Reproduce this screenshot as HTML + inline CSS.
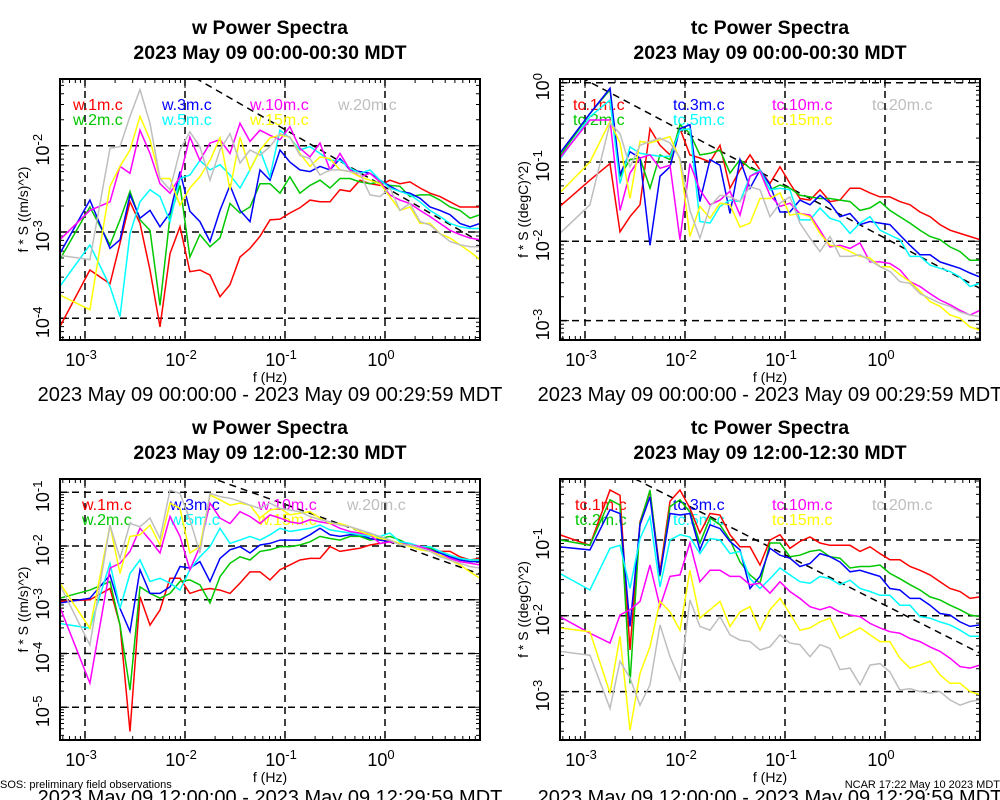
<!DOCTYPE html>
<html><head><meta charset="utf-8"><style>
html,body{margin:0;padding:0;background:#fff;}
svg{display:block;font-family:"Liberation Sans",Arial,sans-serif;}
</style></head><body>
<svg id="chart" width="1000" height="800" viewBox="0 0 1000 800" xmlns="http://www.w3.org/2000/svg">
<rect width="1000" height="800" fill="#fff"/>
<text x="270" y="34" text-anchor="middle" font-size="19.5" font-weight="bold">w Power Spectra</text>
<text x="270" y="59" text-anchor="middle" font-size="19.5" font-weight="bold">2023 May 09 00:00-00:30 MDT</text>
<text x="770" y="34" text-anchor="middle" font-size="19.5" font-weight="bold">tc Power Spectra</text>
<text x="770" y="59" text-anchor="middle" font-size="19.5" font-weight="bold">2023 May 09 00:00-00:30 MDT</text>
<text x="270" y="434" text-anchor="middle" font-size="19.5" font-weight="bold">w Power Spectra</text>
<text x="270" y="459" text-anchor="middle" font-size="19.5" font-weight="bold">2023 May 09 12:00-12:30 MDT</text>
<text x="770" y="434" text-anchor="middle" font-size="19.5" font-weight="bold">tc Power Spectra</text>
<text x="770" y="459" text-anchor="middle" font-size="19.5" font-weight="bold">2023 May 09 12:00-12:30 MDT</text>
<text x="270" y="401" text-anchor="middle" font-size="20">2023 May 09 00:00:00 - 2023 May 09 00:29:59 MDT</text>
<text x="770" y="401" text-anchor="middle" font-size="20">2023 May 09 00:00:00 - 2023 May 09 00:29:59 MDT</text>
<text x="270" y="804" text-anchor="middle" font-size="20">2023 May 09 12:00:00 - 2023 May 09 12:29:59 MDT</text>
<text x="770" y="804" text-anchor="middle" font-size="20">2023 May 09 12:00:00 - 2023 May 09 12:29:59 MDT</text>
<text x="0" y="788" font-size="11">SOS: preliminary field observations</text>
<text x="1000" y="788" text-anchor="end" font-size="11">NCAR 17:22 May 10 2023 MDT</text>
</svg>
<script>
const freq=[0.00056,0.00112,0.00178,0.00224,0.00282,0.00355,0.00447,0.00562,0.00708,0.00891,0.0112,0.0141,0.0178,0.0224,0.0282,0.0355,0.0447,0.0562,0.0708,0.0891,0.112,0.141,0.178,0.224,0.282,0.355,0.447,0.562,0.708,0.891,1.12,1.41,1.78,2.24,2.82,3.55,4.47,5.62,7.08,8.91];
const xTickExps=[-3,-2,-1,0];
const xTickLabels=["-3","-2","-1","0"];
// values are log10(f*S)
const wA_1m=[-4.10,-3.44,-3.60,-3.13,-2.65,-2.90,-3.44,-4.10,-3.25,-2.94,-3.46,-3.44,-3.50,-3.75,-3.61,-3.29,-3.19,-3.05,-2.86,-2.85,-2.78,-2.72,-2.63,-2.65,-2.65,-2.51,-2.53,-2.40,-2.44,-2.46,-2.40,-2.44,-2.42,-2.49,-2.55,-2.59,-2.65,-2.71,-2.71,-2.71];
const wA_2m=[-3.32,-2.71,-3.15,-2.86,-2.53,-2.86,-2.98,-3.85,-2.82,-2.46,-3.29,-3.03,-3.17,-3.07,-2.67,-2.78,-2.71,-2.44,-2.44,-2.55,-2.36,-2.55,-2.46,-2.40,-2.49,-2.38,-2.38,-2.42,-2.44,-2.42,-2.46,-2.47,-2.59,-2.57,-2.57,-2.63,-2.71,-2.75,-2.84,-2.80];
const wA_3m=[-3.25,-2.63,-3.19,-3.09,-2.57,-2.84,-2.75,-2.94,-2.78,-2.30,-2.76,-2.88,-3.11,-2.75,-2.46,-2.75,-2.88,-2.28,-2.40,-2.05,-2.19,-2.28,-2.30,-2.24,-2.28,-2.15,-2.28,-2.30,-2.32,-2.40,-2.47,-2.53,-2.55,-2.61,-2.71,-2.75,-2.80,-2.90,-2.94,-2.90];
const wA_5m=[-3.63,-3.15,-3.63,-3.98,-3.02,-2.65,-2.51,-2.59,-2.88,-2.38,-2.34,-2.17,-2.28,-2.22,-2.34,-2.49,-2.28,-2.05,-2.36,-1.82,-1.91,-2.05,-2.01,-2.09,-2.17,-2.17,-2.26,-2.32,-2.28,-2.40,-2.49,-2.53,-2.57,-2.65,-2.75,-2.82,-2.90,-2.94,-2.96,-2.96];
const wA_10m=[-3.09,-2.75,-2.65,-2.24,-2.32,-1.82,-2.09,-2.44,-2.55,-2.36,-1.90,-2.17,-1.97,-1.93,-2.09,-1.74,-1.95,-1.82,-1.88,-1.93,-1.78,-2.03,-2.13,-1.97,-2.28,-2.09,-2.28,-2.36,-2.32,-2.42,-2.57,-2.63,-2.67,-2.75,-2.82,-2.90,-2.98,-3.03,-3.07,-3.09];
const wA_15m=[-3.73,-3.90,-2.47,-2.24,-2.05,-1.66,-1.93,-2.38,-2.38,-2.69,-2.49,-2.36,-2.17,-1.91,-2.51,-1.90,-2.28,-2.05,-1.91,-1.88,-1.90,-2.09,-2.24,-2.13,-2.15,-2.28,-2.30,-2.36,-2.40,-2.44,-2.59,-2.75,-2.71,-2.90,-2.90,-3.02,-3.07,-3.15,-3.23,-3.32];
const wA_20m=[-3.27,-3.32,-2.03,-2.01,-1.66,-1.35,-1.74,-2.38,-2.51,-2.05,-1.84,-2.01,-2.40,-2.05,-1.86,-2.20,-2.05,-2.11,-2.01,-1.86,-1.90,-2.11,-2.15,-2.34,-2.28,-2.28,-2.30,-2.32,-2.57,-2.59,-2.49,-2.75,-2.67,-2.88,-2.92,-3.02,-3.11,-3.15,-3.17,-3.17];

const tA_1m=[-1.56,-1.23,-1.02,-1.88,-1.69,-1.54,-0.58,-0.79,-0.91,-0.58,-0.91,-0.95,-1.00,-0.79,-1.33,-1.10,-0.91,-1.10,-1.27,-1.06,-1.27,-1.46,-1.48,-1.35,-1.50,-1.48,-1.33,-1.33,-1.39,-1.44,-1.44,-1.50,-1.54,-1.63,-1.69,-1.79,-1.86,-1.90,-1.94,-1.98];
const tA_2m=[-0.93,-0.39,-0.09,-1.18,-0.97,-0.95,-1.33,-0.91,-0.97,-0.53,-0.64,-0.91,-0.89,-0.85,-1.14,-0.97,-1.08,-1.12,-1.35,-1.29,-1.33,-1.42,-1.44,-1.46,-1.46,-1.48,-1.50,-1.61,-1.58,-1.50,-1.61,-1.69,-1.77,-1.86,-1.94,-1.98,-2.07,-2.13,-2.24,-2.24];
const tA_3m=[-0.89,-0.39,-0.07,-1.16,-0.87,-0.95,-2.05,-1.18,-1.06,-0.58,-0.53,-1.50,-0.97,-1.04,-1.65,-0.97,-1.33,-1.10,-1.29,-1.63,-1.63,-1.48,-1.54,-1.42,-1.52,-1.69,-1.65,-1.79,-1.75,-1.77,-1.79,-1.92,-2.05,-2.17,-2.17,-2.26,-2.30,-2.34,-2.40,-2.45];
const tA_5m=[-0.97,-0.43,-0.22,-1.27,-0.81,-0.89,-0.91,-0.93,-0.93,-0.60,-0.58,-1.75,-1.77,-1.56,-1.48,-1.50,-1.18,-1.10,-1.35,-1.33,-1.35,-1.73,-1.73,-1.58,-1.71,-1.75,-1.90,-1.77,-1.69,-1.86,-1.92,-1.98,-2.19,-2.19,-2.30,-2.34,-2.38,-2.45,-2.57,-2.53];
const tA_10m=[-0.95,-0.47,-0.47,-1.61,-1.14,-0.95,-0.91,-1.08,-1.04,-1.98,-1.02,-1.35,-1.54,-1.48,-1.37,-1.67,-1.18,-1.12,-1.42,-1.56,-1.52,-1.65,-1.67,-1.86,-2.07,-2.05,-2.09,-2.02,-2.26,-2.26,-2.28,-2.36,-2.51,-2.57,-2.66,-2.74,-2.80,-2.87,-2.93,-2.87];
const tA_15m=[-1.39,-1.00,-0.49,-0.76,-1.46,-0.74,-0.76,-0.72,-0.68,-0.97,-1.94,-1.56,-1.71,-1.52,-1.54,-1.82,-1.77,-1.46,-1.46,-1.39,-1.67,-1.65,-1.69,-1.90,-2.05,-2.07,-2.13,-2.19,-2.21,-2.32,-2.32,-2.42,-2.51,-2.63,-2.76,-2.82,-2.93,-2.97,-3.08,-3.12];
const tA_20m=[-1.90,-1.54,-0.51,-0.64,-1.06,-0.79,-0.74,-0.70,-0.76,-0.95,-1.61,-1.96,-1.56,-1.42,-1.44,-1.50,-1.31,-1.35,-1.69,-1.52,-1.44,-1.77,-1.96,-2.13,-1.94,-2.19,-2.19,-2.17,-2.24,-2.32,-2.38,-2.51,-2.53,-2.66,-2.72,-2.78,-2.82,-2.89,-2.93,-2.95];

const wB_1m=[-3.03,-3.00,-2.79,-3.47,-5.45,-2.94,-3.47,-3.19,-2.60,-2.60,-2.88,-2.82,-2.79,-2.82,-2.88,-2.69,-2.48,-2.48,-2.63,-2.44,-2.35,-2.26,-2.23,-2.23,-2.01,-2.10,-2.07,-2.04,-1.98,-1.95,-1.92,-1.95,-1.98,-2.01,-2.07,-2.10,-2.10,-2.20,-2.26,-2.23];
const wB_2m=[-2.97,-2.82,-2.66,-3.47,-4.68,-2.76,-2.88,-2.97,-2.88,-2.66,-2.63,-2.72,-3.06,-2.57,-2.32,-2.20,-2.26,-2.10,-2.07,-2.01,-2.01,-1.98,-1.92,-1.82,-1.86,-1.89,-1.82,-1.82,-1.89,-1.86,-1.82,-1.89,-1.98,-2.01,-2.04,-2.10,-2.17,-2.23,-2.26,-2.26];
const wB_3m=[-3.06,-2.97,-2.54,-3.16,-3.59,-2.44,-2.88,-2.88,-2.76,-2.38,-2.41,-2.29,-2.66,-2.23,-2.07,-2.01,-2.13,-1.98,-1.95,-1.89,-1.89,-1.89,-1.79,-1.67,-1.79,-1.82,-1.79,-1.79,-1.86,-1.89,-1.92,-1.95,-1.98,-2.01,-2.07,-2.13,-2.20,-2.26,-2.29,-2.29];
const wB_5m=[-3.44,-3.53,-2.32,-3.16,-2.51,-2.26,-2.66,-2.60,-2.69,-2.82,-2.44,-2.20,-2.01,-1.67,-1.95,-1.89,-1.82,-1.89,-1.79,-1.67,-1.73,-1.70,-1.67,-1.61,-1.70,-1.73,-1.76,-1.79,-1.82,-1.82,-1.76,-1.92,-1.95,-2.01,-2.01,-2.10,-2.17,-2.23,-2.26,-2.26];
const wB_10m=[-3.13,-4.55,-2.41,-2.32,-2.10,-1.67,-1.89,-2.13,-1.45,-1.82,-2.44,-2.01,-1.20,-1.48,-1.58,-1.36,-1.45,-1.58,-1.42,-1.48,-1.55,-1.58,-1.51,-1.55,-1.58,-1.67,-1.73,-1.76,-1.79,-1.95,-1.92,-1.95,-1.98,-2.01,-2.07,-2.17,-2.23,-2.29,-2.32,-2.35];
const wB_15m=[-2.69,-3.53,-1.61,-2.51,-1.82,-1.79,-1.61,-1.98,-1.20,-1.30,-2.13,-2.01,-1.05,-1.14,-1.24,-1.20,-1.24,-1.48,-1.33,-1.30,-1.42,-1.39,-1.36,-1.48,-1.58,-1.58,-1.64,-1.73,-1.79,-1.86,-1.89,-1.95,-2.01,-2.07,-2.10,-2.17,-2.26,-2.35,-2.48,-2.60];
const wB_20m=[-2.72,-3.84,-1.61,-2.23,-1.58,-1.64,-1.48,-1.86,-0.96,-1.02,-1.51,-2.13,-1.02,-1.08,-1.11,-1.17,-1.24,-1.30,-1.20,-1.30,-1.33,-1.36,-1.45,-1.51,-1.55,-1.61,-1.64,-1.70,-1.76,-1.82,-1.89,-1.98,-1.98,-2.04,-2.10,-2.20,-2.26,-2.32,-2.38,-2.41];

const tB_1m=[-0.93,-1.07,-0.34,-0.41,-2.45,-0.76,-0.36,-1.42,-0.49,-0.34,-0.58,-0.91,-0.65,-0.67,-0.93,-1.09,-1.09,-1.33,-1.00,-0.93,-1.11,-1.02,-0.96,-1.04,-1.07,-1.07,-1.07,-1.15,-1.09,-1.18,-1.26,-1.26,-1.35,-1.40,-1.46,-1.55,-1.64,-1.68,-1.77,-1.75];
const tB_2m=[-1.00,-1.07,-0.47,-0.54,-2.89,-0.78,-0.34,-1.48,-0.56,-0.47,-0.63,-1.04,-0.71,-0.80,-1.00,-1.29,-1.46,-1.57,-1.04,-1.04,-1.22,-1.20,-1.15,-1.13,-1.22,-1.24,-1.37,-1.35,-1.35,-1.33,-1.44,-1.51,-1.59,-1.66,-1.75,-1.79,-1.86,-1.92,-1.99,-2.01];
const tB_3m=[-1.09,-1.13,-0.60,-0.65,-2.14,-0.80,-0.43,-1.46,-0.65,-0.67,-0.65,-1.13,-0.80,-0.85,-1.02,-1.13,-1.64,-1.48,-1.11,-1.20,-1.24,-1.35,-1.31,-1.18,-1.22,-1.29,-1.42,-1.40,-1.44,-1.48,-1.64,-1.66,-1.77,-1.77,-1.86,-1.97,-1.99,-2.08,-2.14,-2.12];
const tB_5m=[-1.44,-1.66,-1.11,-1.07,-1.64,-0.98,-0.69,-1.62,-1.00,-0.93,-0.96,-1.18,-0.98,-1.00,-1.18,-1.15,-1.51,-1.64,-1.51,-1.37,-1.46,-1.55,-1.57,-1.48,-1.51,-1.59,-1.53,-1.64,-1.68,-1.73,-1.73,-1.86,-1.86,-2.01,-2.03,-2.08,-2.12,-2.19,-2.27,-2.27];
const tB_10m=[-2.01,-2.23,-2.36,-1.99,-1.92,-1.81,-1.33,-1.88,-1.48,-1.46,-1.04,-1.55,-1.40,-1.40,-1.48,-1.48,-1.59,-1.57,-1.70,-1.55,-1.68,-1.77,-1.88,-1.92,-1.88,-1.95,-1.99,-2.01,-2.10,-2.16,-2.21,-2.23,-2.30,-2.34,-2.41,-2.47,-2.56,-2.67,-2.69,-2.65];
const tB_15m=[-2.16,-2.21,-3.02,-2.27,-3.51,-2.76,-2.41,-1.81,-1.95,-2.19,-1.40,-2.03,-1.92,-1.81,-2.14,-1.95,-1.88,-2.19,-1.92,-1.77,-1.97,-2.19,-2.16,-2.08,-2.03,-2.30,-2.23,-2.16,-2.25,-2.34,-2.34,-2.56,-2.69,-2.65,-2.60,-2.78,-2.89,-2.89,-3.00,-3.04];
const tB_20m=[-2.47,-2.52,-3.22,-2.60,-2.82,-3.18,-2.91,-2.12,-2.54,-2.85,-1.79,-2.14,-2.19,-2.01,-2.25,-2.32,-2.34,-2.45,-2.41,-2.25,-2.36,-2.38,-2.54,-2.38,-2.43,-2.71,-2.69,-2.91,-2.65,-2.63,-2.74,-2.98,-2.96,-3.00,-3.02,-3.00,-3.11,-3.18,-3.13,-3.11];

// reference -2/3 slope line: log10 value at f=1 Hz
const refAtOne=[-2.48,-1.96,-1.89,-1.86];
const refSlope=-0.6667;

const colors=["#ff0000","#00c800","#0000ff","#00ffff","#ff00ff","#ffff00","#bebebe"];
const hts=["1m","2m","3m","5m","10m","15m","20m"];

const NS="http://www.w3.org/2000/svg";
const svg=document.getElementById('chart');
function mk(tag,attrs,parent){const e=document.createElementNS(NS,tag);for(const k in attrs)e.setAttribute(k,attrs[k]);(parent||svg).appendChild(e);return e;}

const panels=[
 {id:"w-top",var:"w",L:60,R:480,T:79,B:340,x0:85,yRefExp:-2,yRef:145.7,ppd:86.3,yExps:[-2,-3,-4],series:[wA_1m,wA_2m,wA_3m,wA_5m,wA_10m,wA_15m,wA_20m],ylab:"f * S ((m/s)^2)",legX:[73,162,250,338]},
 {id:"tc-top",var:"tc",L:560,R:980,T:79,B:340,x0:585,yRefExp:0,yRef:82.7,ppd:79.3,yExps:[0,-1,-2,-3],series:[tA_1m,tA_2m,tA_3m,tA_5m,tA_10m,tA_15m,tA_20m],ylab:"f * S ((degC)^2)",legX:[573,673,772,872]},
 {id:"w-bottom",var:"w",L:60,R:480,T:479,B:740,x0:85,yRefExp:-1,yRef:492.3,ppd:53.75,yExps:[-1,-2,-3,-4,-5],series:[wB_1m,wB_2m,wB_3m,wB_5m,wB_10m,wB_15m,wB_20m],ylab:"f * S ((m/s)^2)",legX:[82,170,258,347]},
 {id:"tc-bottom",var:"tc",L:560,R:980,T:479,B:740,x0:585,yRefExp:-1,yRef:540,ppd:75.8,yExps:[-1,-2,-3],series:[tB_1m,tB_2m,tB_3m,tB_5m,tB_10m,tB_15m,tB_20m],ylab:"f * S ((degC)^2)",legX:[575,673,772,872]}
];

panels.forEach((p,pi)=>{
 const xs=f=>p.x0+100*(Math.log10(f)+3);
 const xe=e=>p.x0+100*(e+3);
 const ys=l=>p.yRef-(l-p.yRefExp)*p.ppd;
 const g=mk('g',{});
 
 
 const cid='clip'+pi;
 const cp=mk('clipPath',{id:cid},g);mk('rect',{x:p.L,y:p.T,width:p.R-p.L,height:p.B-p.T},cp);
 xTickExps.forEach((e,i)=>{
  const gl=mk('line',{x1:xe(e),x2:xe(e),y1:p.T,y2:p.B,stroke:"#000","stroke-width":1.5,"stroke-dasharray":"7,5"},g);
  
  
  const t=mk('text',{x:xe(e)-4,y:p.B+26,"text-anchor":"middle","font-size":18},g);
  
  
  t.textContent="10";
  const s=mk('tspan',{dy:-7,"font-size":13},t);s.textContent=xTickLabels[i];
 });
 p.yExps.forEach(e=>{
  const y=ys(e);
  const gl=mk('line',{x1:p.L,x2:p.R,y1:y,y2:y,stroke:"#000","stroke-width":1.5,"stroke-dasharray":"7,5"},g);
  
  
  const t=mk('text',{x:0,y:0,transform:`translate(${p.L-11},${y+4}) rotate(-90)`,"text-anchor":"middle","font-size":18},g);
  
  
  t.textContent="10";
  const s=mk('tspan',{dy:-7,"font-size":13},t);s.textContent=String(e);
 });
 let tk="";
 for(let d=-4;d<=1;d++)for(let m=1;m<10;m++){
  const x=p.x0+100*(d+3+Math.log10(m));if(x<=p.L||x>=p.R)continue;
  const len=m===1?9:4;tk+=`M${x},${p.B}v${-len}M${x},${p.T}v${len}`;}
 for(let d=-6;d<=1;d++)for(let m=1;m<10;m++){
  const y=ys(d+Math.log10(m));if(y<=p.T||y>=p.B)continue;
  const len=m===1?9:4;tk+=`M${p.L},${y}h${len}M${p.R},${y}h${-len}`;}
 const ticks=mk('path',{d:tk,stroke:"#000","stroke-width":1,fill:"none"},g);
 
 
 const fa=Math.pow(10,(p.L-p.x0)/100-3),fb=Math.pow(10,(p.R-p.x0)/100-3);
 const rl=mk('line',{x1:xs(fa),y1:ys(refAtOne[pi]+refSlope*Math.log10(fa)),x2:xs(fb),y2:ys(refAtOne[pi]+refSlope*Math.log10(fb)),stroke:"#000","stroke-width":1.5,"stroke-dasharray":"7,5","clip-path":`url(#${cid})`},g);
 
 
 for(let i=0;i<7;i++){
  const col=Math.floor(i/2),row=i%2;
  const t=mk('text',{x:p.legX[col],y:(p.T+31)+row*15,"font-size":16,fill:colors[i]},g);
  
  
  t.textContent=p.var+"."+hts[i]+".c";
 }
 p.series.forEach((vals,si)=>{
  const pts=vals.map((v,k)=>xs(freq[k]).toFixed(1)+","+ys(v).toFixed(1)).join(" ");
  const pl=mk('polyline',{points:pts,fill:"none",stroke:colors[si],"stroke-width":1.5,"stroke-linejoin":"miter","clip-path":`url(#${cid})`},g);
  
  
 });
 const fr=mk('rect',{x:p.L,y:p.T,width:p.R-p.L,height:p.B-p.T,fill:"none",stroke:"#000","stroke-width":2},g);
 
 
 const xt=mk('text',{x:(p.L+p.R)/2,y:p.B+42,"text-anchor":"middle","font-size":14},g);
 
 
 xt.textContent="f (Hz)";
 const yt=mk('text',{x:0,y:0,transform:`translate(${p.L-32},${(p.T+p.B)/2}) rotate(-90)`,"text-anchor":"middle","font-size":14},g);
 
 
 yt.textContent=p.ylab;
});
</script>
</body></html>
